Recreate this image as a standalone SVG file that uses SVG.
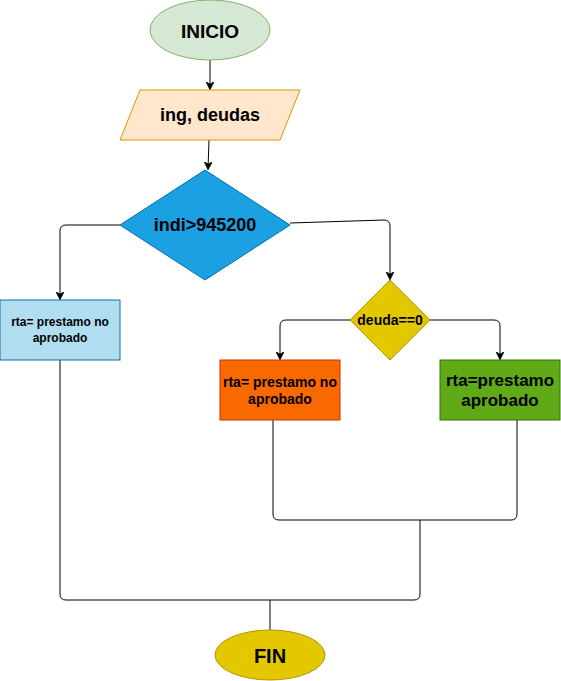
<svg xmlns="http://www.w3.org/2000/svg" width="561" height="681" viewBox="0 0 561 681">
<defs>
<marker id="arr" viewBox="0 0 10 10" refX="9" refY="5" markerWidth="8" markerHeight="8" markerUnits="userSpaceOnUse" orient="auto">
<path d="M0,0 L10,5 L0,10 L3,5 Z" fill="#000" stroke="#000" stroke-width="1"/>
</marker>
<style>
text{font-family:"Liberation Sans",Arial,sans-serif;font-weight:bold;fill:#000;text-anchor:middle;dominant-baseline:central}
.c{fill:none;stroke:#000;stroke-width:1}
</style>
</defs>
<rect width="561" height="681" fill="#fff"/>
<g id="connectors">
<path class="c" d="M210,60 L210,89" marker-end="url(#arr)"/>
<path class="c" d="M209,140 L208,169" marker-end="url(#arr)"/>
<path class="c" d="M120,225 L66,225 Q60,225 60,231 L60,299" marker-end="url(#arr)"/>
<path class="c" d="M290,223 L384,220 Q390,220 390,226 L390,279" marker-end="url(#arr)"/>
<path class="c" d="M350,320 L286,320 Q280,320 280,326 L280,359" marker-end="url(#arr)"/>
<path class="c" d="M430,320 L494,320 Q500,320 500,326 L500,359" marker-end="url(#arr)"/>
<path class="c" d="M273,420 L273,514 Q273,520 279,520 L511,520 Q517,520 517,514 L517,420"/>
<path class="c" d="M420,520 L420,594 Q420,600 414,600 L66,600 Q60,600 60,594 L60,360"/>
<path class="c" d="M270,600 L270,630"/>
</g>
<g id="inicio">
<ellipse cx="210" cy="30" rx="60" ry="30" fill="#d5e8d4" stroke="#82b366"/>
<text x="210" y="31" font-size="19">INICIO</text>
</g>
<g id="entrada">
<polygon points="140,90 300,90 280,140 120,140" fill="#ffe6cc" stroke="#d79b00"/>
<text x="210" y="115" font-size="18">ing, deudas</text>
</g>
<g id="decision1">
<polygon points="205,170 290,225 205,280 120,225" fill="#1ba1e2" stroke="#006eaf"/>
<text x="205" y="225" font-size="18">indi&gt;945200</text>
</g>
<g id="rta1">
<rect x="0" y="300" width="120" height="60" fill="#b1ddf0" stroke="#10739e"/>
<text x="60" y="322" font-size="12">rta= prestamo no</text>
<text x="60" y="338" font-size="12">aprobado</text>
</g>
<g id="decision2">
<polygon points="390,280 430,320 390,360 350,320" fill="#e3c800" stroke="#b09500"/>
<text x="390" y="320" font-size="14">deuda==0</text>
</g>
<g id="rta2">
<rect x="220" y="360" width="120" height="60" fill="#fa6800" stroke="#c73500"/>
<text x="280" y="382" font-size="14">rta= prestamo no</text>
<text x="280" y="399" font-size="14">aprobado</text>
</g>
<g id="rta3">
<rect x="440" y="360" width="120" height="60" fill="#60a917" stroke="#2d7600"/>
<text x="500" y="380" font-size="17">rta=prestamo</text>
<text x="500" y="400" font-size="17">aprobado</text>
</g>
<g id="fin">
<ellipse cx="270" cy="655" rx="55" ry="25" fill="#e3c800" stroke="#b09500"/>
<text x="270" y="656" font-size="20">FIN</text>
</g>
</svg>
